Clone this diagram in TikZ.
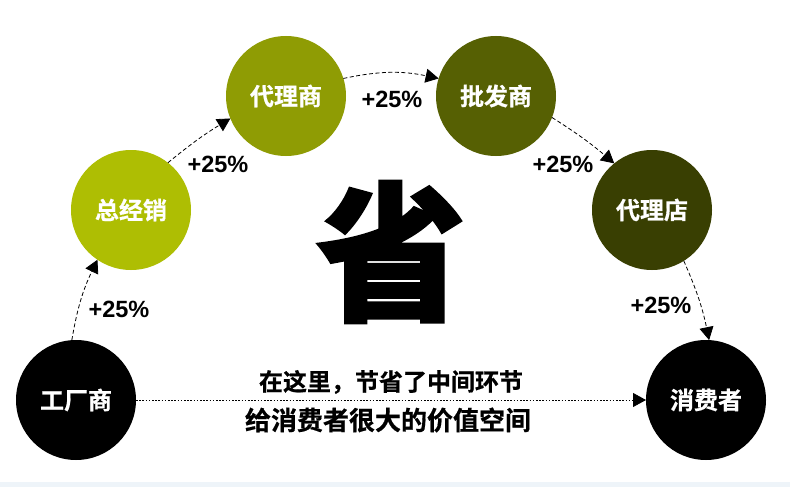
\documentclass[tikz,border=0pt]{standalone}
\usepackage{fontspec}
\usetikzlibrary{arrows.meta}
\newfontfamily\cjkbold[FakeBold=0.6]{Noto Sans CJK SC Bold}
\newfontfamily\cjkheavy[FakeBold=1.6]{Noto Sans CJK SC Black}
\newfontfamily\arialb{Liberation Sans Bold}
\definecolor{cA}{HTML}{AEBE03}
\definecolor{cB}{HTML}{8F9C04}
\definecolor{cC}{HTML}{566003}
\definecolor{cD}{HTML}{393F02}
\definecolor{strip}{HTML}{EEF4F9}
\tikzset{
  x=1pt,y=-1pt,
  hub/.style={circle,minimum size=120pt,inner sep=0pt,outer sep=0pt,text=white,font=\cjkbold\fontsize{24}{24}\selectfont},
  pct/.style={inner sep=0pt,font=\arialb\fontsize{23.5}{24}\selectfont},
  link/.style={black,line width=0.8pt,dash pattern=on 4pt off 2.5pt,-{Triangle[length=13pt,width=14pt]}},
  dotlink/.style={black,line width=0.8pt,dash pattern=on 1.6pt off 1.6pt,-{Triangle[length=13pt,width=14pt]}},
  capt/.style={inner sep=0pt,text=black}
}
\begin{document}
\begin{tikzpicture}
\useasboundingbox (0,0) rectangle (790,487);
\fill[white] (0,0) rectangle (790,487);
\fill[strip] (0,482) rectangle (790,487);
\node[hub,fill=black] (fac) at (76,400) {工厂商};
\node[hub,fill=cA] (gen) at (131,210) {总经销};
\node[hub,fill=cB] (age) at (286,96) {代理商};
\node[hub,fill=cC] (whl) at (496,96) {批发商};
\node[hub,fill=cD] (sto) at (652,210) {代理店};
\node[hub,fill=black] (con) at (706,400) {消费者};
\draw[link] (fac.94) to[bend left=8] (gen.236);
\draw[link] (gen.52) to[bend left=4] (age.202);
\draw[link] (age.17) to[bend left=12] (whl.163);
\draw[link] (whl.-21) to[bend left=4] (sto.129);
\draw[link] (sto.-58) to[bend left=6] (con.87);
\draw[dotlink] (fac.east) -- (con.west);
\node[pct] (p1) at (119,309) {+25\%};
\node[pct] (p2) at (218,164) {+25\%};
\node[pct] (p3) at (392,99) {+25\%};
\node[pct] (p4) at (563,164) {+25\%};
\node[pct] (p5) at (661,305) {+25\%};
\node[capt,font=\cjkheavy\fontsize{150}{150}\selectfont] (sheng) at (391,252) {省};
\node[capt,font=\cjkbold\fontsize{24}{24}\selectfont] (t1) at (391,382) {在这里，节省了中间环节};
\node[capt,font=\cjkbold\fontsize{26}{26}\selectfont] (t2) at (388,420) {给消费者很大的价值空间};
\end{tikzpicture}
\end{document}
